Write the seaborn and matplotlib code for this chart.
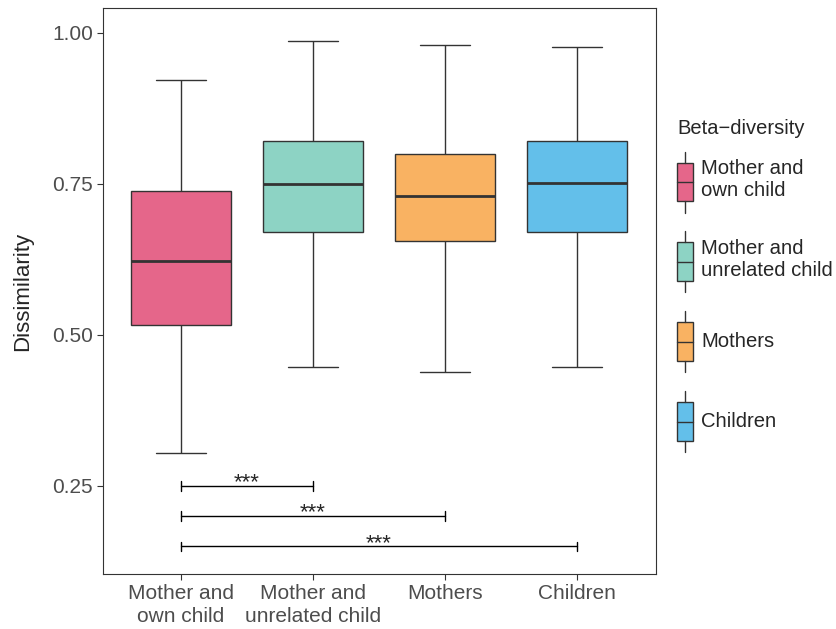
import pandas as pd
import matplotlib
matplotlib.use("Agg")
import matplotlib.pyplot as plt
import seaborn as sns
from matplotlib.patches import Patch, Rectangle
from matplotlib.lines import Line2D
from matplotlib.legend_handler import HandlerBase

# box statistics
groups = ["Mother and\nown child", "Mother and\nunrelated child", "Mothers", "Children"]
whisker_lo = [0.305, 0.447, 0.439, 0.447]
q1 = [0.517, 0.670, 0.656, 0.670]
median = [0.622, 0.750, 0.730, 0.752]
q3 = [0.738, 0.820, 0.800, 0.820]
whisker_hi = [0.922, 0.986, 0.980, 0.977]
colors = ["#E5668A", "#8DD3C4", "#F9B262", "#63BFEA"]

# significance brackets: (start group, end group, y level)
brackets = [(0, 1, 0.25), (0, 2, 0.20), (0, 3, 0.15)]

rows = []
for i, g in enumerate(groups):
    for v in [whisker_lo[i], q1[i], median[i], q3[i], whisker_hi[i]]:
        rows.append({"group": g, "value": v})
df = pd.DataFrame(rows)

sns.set_style("white")
plt.rcParams['font.family'] = ['Liberation Sans', 'DejaVu Sans']

fig = plt.figure(figsize=(8.37, 6.29), dpi=100)
ax = fig.add_axes([0.123, 0.0874, 0.661, 0.9])

sns.boxplot(data=df, x="group", y="value", hue="group", palette=colors,
            whis=(0, 100), width=0.76, linecolor="#333333", linewidth=1,
            medianprops=dict(linewidth=2), saturation=1, legend=False, ax=ax)

for a, b, y in brackets:
    ax.plot([a, b], [y, y], color="black", lw=1)
    for xx in (a, b):
        ax.plot([xx, xx], [y - 0.008, y + 0.008], color="black", lw=1)
    ax.text((a + b) / 2, y - 0.004, "***", ha="center", va="baseline", fontsize=16)

ax.set_xlim(-0.59, 3.6)
ax.set_ylim(0.1043, 1.041)
ax.set_yticks([0.25, 0.50, 0.75, 1.00])
ax.set_yticklabels(["0.25", "0.50", "0.75", "1.00"])
ax.set_xlabel("")
ax.set_ylabel("Dissimilarity", fontsize=16, labelpad=14)
ax.tick_params(axis="both", labelsize=15, labelcolor="#4D4D4D", color="#333333",
               length=4, width=0.8, direction="out", bottom=True, left=True, pad=3)
for lab in ax.get_xticklabels():
    lab.set_linespacing(1.3)
for s in ax.spines.values():
    s.set_color("#333333")
    s.set_linewidth(0.8)


class BoxHandler(HandlerBase):
    def create_artists(self, legend, orig_handle, xdescent, ydescent,
                       width, height, fontsize, trans):
        x0, y0 = -xdescent, -ydescent
        cx = x0 + width / 2
        fc = orig_handle.get_facecolor()
        box = Rectangle((x0, y0 + height * 0.19), width, height * 0.63,
                        facecolor=fc, edgecolor="#333333", lw=1, transform=trans)
        lo = Line2D([cx, cx], [y0, y0 + height * 0.19], color="#333333", lw=1, transform=trans)
        hi = Line2D([cx, cx], [y0 + height * 0.82, y0 + height], color="#333333", lw=1, transform=trans)
        mid = Line2D([x0, x0 + width], [y0 + height * 0.5] * 2, color="#333333", lw=1, transform=trans)
        return [box, lo, hi, mid]


handles = [Patch(facecolor=c) for c in colors]
leg = fig.legend(handles, groups, loc="upper left",
                 bbox_to_anchor=(0.787, 0.788), frameon=False, fontsize=14.6,
                 handler_map={Patch: BoxHandler()},
                 handlelength=0.79, handleheight=4.25, labelspacing=0.93,
                 handletextpad=0.4)
fig.text(677 / 837, 1 - 128 / 629, "Beta\u2212diversity", fontsize=14.5,
         ha="left", va="center")

fig.savefig("out.png", dpi=100)
